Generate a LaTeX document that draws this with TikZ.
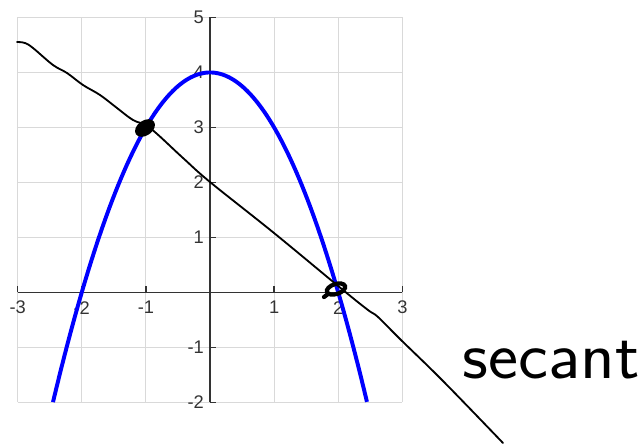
\documentclass[tikz,border=0pt]{standalone}
\usepackage{fontspec}
\setmainfont{Liberation Sans}
\usepackage{tikz}
\usetikzlibrary{positioning, calc}

\begin{document}
\begin{tikzpicture}[
    x=0.025cm, y=-0.025cm,
    every node/.style={font=\fontsize{13}{15}\selectfont, text=black!80},
    gridline/.style={gray!30, line width=0.7pt},
    axisline/.style={black!80, line width=1pt},
    curve/.style={blue, line width=2.8pt},
    secant/.style={black, line width=1.3pt, line cap=round, line join=round},
    blob/.style={black, line width=3pt}
]
\useasboundingbox (0,0) rectangle (643,443);

% data coordinates: origin at the axes crossing
\begin{scope}[shift={(210,292.3)}, x=1.6025cm, y=1.37375cm]
  % grid
  \foreach \gx in {-3,...,3}
    \draw[gridline] (\gx,-2) -- (\gx,5);
  \foreach \gy in {-2,...,5}
    \draw[gridline] (-3,\gy) -- (3,\gy);
  % axes with ticks
  \draw[axisline] (-3,0) -- (3,0);
  \draw[axisline] (0,-2) -- (0,5);
  \foreach \gx in {-3,-2,-1,1,2,3}
    \draw[axisline] (\gx,0) -- ++(0,0.11);
  \foreach \gy in {-2,-1,1,2,3,4,5}
    \draw[axisline] (0,\gy) -- ++(0.1,0);
  % labels
  \foreach \gx in {-3,-2,-1,1,2,3}
    \node (xl\gx) at (\gx,-0.28) {\gx};
  \foreach \gy in {-2,-1,1,2,3,4,5}
    \node[anchor=east, inner sep=1pt] (yl\gy) at (-0.07,\gy) {\gy};
  % parabola
  \draw[curve, domain=-2.449:2.449, samples=90] plot (\x, {4-\x*\x});
\end{scope}

% hand drawn secant
\draw[secant] plot[smooth, tension=0.6] coordinates {
  (17,42) (25,43) (33,48) (53,65) (67,73) (83,85) (100,95) (117,108) (133,120)
  (150,128) (183,158) (210,182) (274,233) (343,290) (368,310) (378,317)
  (400,339) (443,381) (503,443)};
\fill[black] (145,128) ellipse [x radius=11, y radius=7.5, rotate=35];
\draw[blob] (336,289) ellipse [x radius=9.5, y radius=5, rotate=18];
\draw[blob, line cap=round] (328,294) -- (324,297);

\node[font=\sffamily\fontsize{48}{48}\selectfont, text=black, anchor=base, xscale=1.06] (lbl) at (551,378) {secant};
\end{tikzpicture}
\end{document}
